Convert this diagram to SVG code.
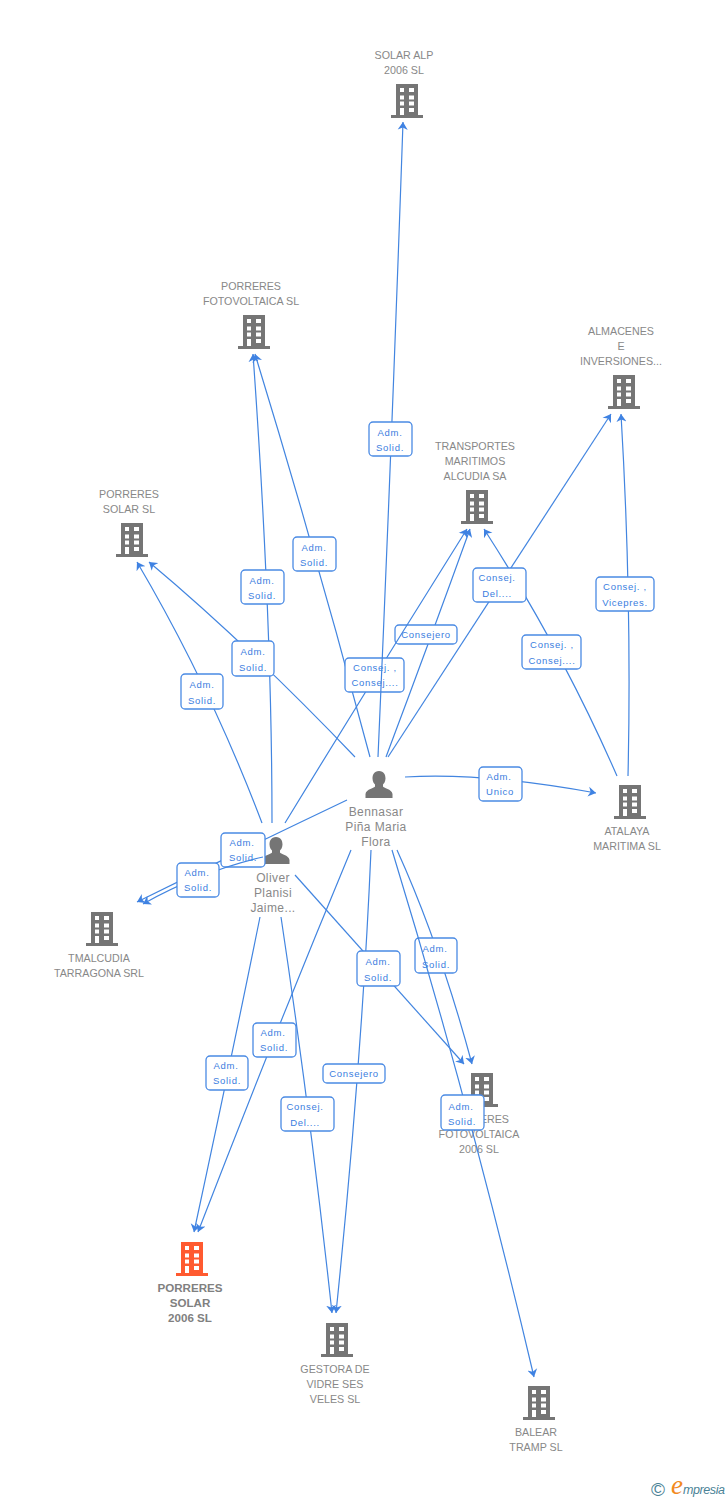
<svg xmlns="http://www.w3.org/2000/svg" width="728" height="1500" viewBox="0 0 728 1500">
<style>
text{font-family:"Liberation Sans",Arial,sans-serif}
.n{font-size:10.7px;fill:#888;text-anchor:middle}
.b{font-size:11.6px;font-weight:bold;fill:#808080;text-anchor:middle}
.p{font-size:12px;fill:#888;text-anchor:middle;letter-spacing:.4px}
.e{fill:none;stroke:#4285e0;stroke-width:1.2;marker-end:url(#a)}
.l rect{fill:#fff;stroke:#4a8ae4;stroke-width:1.3}
.l text{font-size:9.5px;fill:#3a7de0;text-anchor:middle;letter-spacing:.7px}
.g{fill:#757575}
.r{fill:#ff5a30}
</style>
<defs>
<marker id="a" markerUnits="userSpaceOnUse" markerWidth="11" markerHeight="11" refX="8.500" refY="6" orient="auto" viewBox="0 0 12 12"><path d="M0 .5L8.500 6L0 11.500L2.500 6Z" fill="#3f82e2"/></marker>
<path id="bld" fill-rule="evenodd" d="M-11-17H11V14H16V17H-16V14H-11ZM-7-13V-9H-3V-13ZM2-13V-9H7V-13ZM-7-5.500V-1.500H-3V-5.500ZM2-5.500V-1.500H7V-5.500ZM-7 0.500V4.500H-3V0.500ZM2 0.500V4.500H7V0.500ZM-7 7V14H-3V7ZM2 7V11H7V7Z"/>
<path id="psn" d="M0-14C-5-14-6.500-10-6.500-6.500C-6.500-3-4.500-1-4-.5V1.500C-4 3-13 4-13.500 9V13H13.500V9C13 4 4 3 4 1.500V-.5C4.500-1 6.500-3 6.500-6.500C6.500-10 5-14 0-14Z"/>
</defs>
<g id="nodes">
<g id="n-solar-alp"><use href="#bld" x="407" y="101" class="g"/><text class="n" x="404" y="59">SOLAR ALP</text><text class="n" x="404" y="74">2006 SL</text></g>
<g id="n-porreres-fotovoltaica"><use href="#bld" x="254" y="332" class="g"/><text class="n" x="251" y="290">PORRERES</text><text class="n" x="251" y="305">FOTOVOLTAICA SL</text></g>
<g id="n-almacenes"><use href="#bld" x="624" y="392" class="g"/><text class="n" x="621" y="335">ALMACENES</text><text class="n" x="621" y="350">E</text><text class="n" x="621" y="365">INVERSIONES...</text></g>
<g id="n-transportes"><use href="#bld" x="477" y="507" class="g"/><text class="n" x="475" y="450">TRANSPORTES</text><text class="n" x="475" y="465">MARITIMOS</text><text class="n" x="475" y="480">ALCUDIA SA</text></g>
<g id="n-porreres-solar"><use href="#bld" x="132" y="540" class="g"/><text class="n" x="129" y="498">PORRERES</text><text class="n" x="129" y="513">SOLAR SL</text></g>
<g id="n-atalaya"><use href="#bld" x="630" y="802" class="g"/><text class="n" x="627" y="835">ATALAYA</text><text class="n" x="627" y="850">MARITIMA SL</text></g>
<g id="n-tmalcudia"><use href="#bld" x="102" y="929" class="g"/><text class="n" x="99" y="962">TMALCUDIA</text><text class="n" x="99" y="977">TARRAGONA SRL</text></g>
<g id="n-fotovoltaica-2006"><use href="#bld" x="482" y="1090" class="g"/><text class="n" x="479" y="1123">PORRERES</text><text class="n" x="479" y="1138">FOTOVOLTAICA</text><text class="n" x="479" y="1153">2006 SL</text></g>
<g id="n-solar-2006"><use href="#bld" x="192" y="1259" class="r"/><text class="b" x="190" y="1292">PORRERES</text><text class="b" x="190" y="1307">SOLAR</text><text class="b" x="190" y="1322">2006 SL</text></g>
<g id="n-gestora"><use href="#bld" x="337" y="1340" class="g"/><text class="n" x="335" y="1373">GESTORA DE</text><text class="n" x="335" y="1388">VIDRE SES</text><text class="n" x="335" y="1403">VELES SL</text></g>
<g id="n-balear"><use href="#bld" x="539" y="1403" class="g"/><text class="n" x="536" y="1436">BALEAR</text><text class="n" x="536" y="1451">TRAMP SL</text></g>
<g id="n-bennasar"><use href="#psn" x="379" y="785" class="g"/><text class="p" x="376" y="816">Bennasar</text><text class="p" x="376" y="831">Piña Maria</text><text class="p" x="376" y="846">Flora</text></g>
<g id="n-oliver"><use href="#psn" x="276" y="851" class="g"/><text class="p" x="273" y="882">Oliver</text><text class="p" x="273" y="897">Planisi</text><text class="p" x="273" y="912">Jaime...</text></g>
</g>
<g id="connectors">
<path class="e" d="M370 757Q316 553 255 354"/>
<g class="l"><rect x="293" y="537" width="43" height="34" rx="4"/><text x="314" y="551">Adm.</text><text x="314" y="566">Solid.</text></g>
<path class="e" d="M272 823Q272 620 253 354"/>
<g class="l"><rect x="241" y="570" width="43" height="34" rx="4"/><text x="262" y="584">Adm.</text><text x="262" y="599">Solid.</text></g>
<path class="e" d="M262 823Q210 686 137 562"/>
<g class="l"><rect x="181" y="674" width="42" height="35" rx="4"/><text x="202" y="688">Adm.</text><text x="202" y="704">Solid.</text></g>
<path class="e" d="M355 757Q248 645 149 562"/>
<g class="l"><rect x="232" y="641" width="42" height="35" rx="4"/><text x="253" y="655">Adm.</text><text x="253" y="671">Solid.</text></g>
<path class="e" d="M386 757Q430 640 470 529"/>
<g class="l"><rect x="395" y="625" width="62" height="19" rx="4"/><text x="426" y="638">Consejero</text></g>
<path class="e" d="M285 823Q376 674 467 529"/>
<g class="l"><rect x="345" y="658" width="59" height="34" rx="4"/><text x="375" y="671">Consej. ,</text><text x="375" y="686">Consej....</text></g>
<path class="e" d="M378 757Q392 440 403 122"/>
<g class="l"><rect x="369" y="422" width="43" height="34" rx="4"/><text x="390" y="436">Adm.</text><text x="390" y="451">Solid.</text></g>
<path class="e" d="M617 776Q562 650 484 529"/>
<g class="l"><rect x="522" y="635" width="59" height="34" rx="4"/><text x="552" y="648">Consej. ,</text><text x="552" y="664">Consej....</text></g>
<path class="e" d="M388 757Q500 585 611 414"/>
<g class="l"><rect x="473" y="568" width="53" height="34" rx="4"/><text x="497" y="581">Consej.</text><text x="497" y="597">Del....</text></g>
<path class="e" d="M628 776Q632 600 621 414"/>
<g class="l"><rect x="596" y="577" width="58" height="34" rx="4"/><text x="625" y="590">Consej. ,</text><text x="625" y="606">Vicepres.</text></g>
<path class="e" d="M405 777Q480 772 596 793"/>
<g class="l"><rect x="479" y="767" width="43" height="34" rx="4"/><text x="499" y="780">Adm.</text><text x="500" y="795">Unico</text></g>
<path class="e" d="M347 800Q242 850 137 902"/>
<g class="l"><rect x="221" y="833" width="44" height="34" rx="4"/><text x="242" y="846">Adm.</text><text x="243" y="861">Solid.</text></g>
<path class="e" d="M263 857Q200 872 143 904"/>
<g class="l"><rect x="177" y="863" width="42" height="34" rx="4"/><text x="197" y="876">Adm.</text><text x="198" y="891">Solid.</text></g>
<path class="e" d="M260 917Q229 1070 194 1232"/>
<g class="l"><rect x="206" y="1056" width="42" height="34" rx="4"/><text x="226" y="1069">Adm.</text><text x="227" y="1084">Solid.</text></g>
<path class="e" d="M351 850Q272 1040 198 1232"/>
<g class="l"><rect x="253" y="1023" width="43" height="34" rx="4"/><text x="273" y="1036">Adm.</text><text x="274" y="1051">Solid.</text></g>
<path class="e" d="M281 917Q310 1110 332 1313"/>
<g class="l"><rect x="281" y="1097" width="53" height="34" rx="4"/><text x="305" y="1110">Consej.</text><text x="305" y="1126">Del....</text></g>
<path class="e" d="M371 850Q362 1060 336 1313"/>
<g class="l"><rect x="323" y="1064" width="62" height="19" rx="4"/><text x="354" y="1077">Consejero</text></g>
<path class="e" d="M295 875Q378 968 464 1064"/>
<g class="l"><rect x="357" y="951" width="43" height="35" rx="4"/><text x="378" y="965">Adm.</text><text x="378" y="981">Solid.</text></g>
<path class="e" d="M397 850Q440 945 472 1064"/>
<g class="l"><rect x="415" y="938" width="42" height="35" rx="4"/><text x="435" y="952">Adm.</text><text x="436" y="968">Solid.</text></g>
<path class="e" d="M392 850Q470 1105 534 1377"/>
<g class="l"><rect x="441" y="1095" width="43" height="35" rx="4"/><text x="461" y="1110">Adm.</text><text x="462" y="1125">Solid.</text></g>
</g>
<g id="logo"><text x="658" y="1496" font-size="19" fill="#4a8296" text-anchor="middle">©</text><text x="671" y="1494" font-size="27" font-style="italic" fill="#f28a1e" style="font-family:'Liberation Serif',serif">e</text><text x="683" y="1494" font-size="12.500" font-style="italic" fill="#4a8296" textLength="42">mpresia</text></g>
</svg>
